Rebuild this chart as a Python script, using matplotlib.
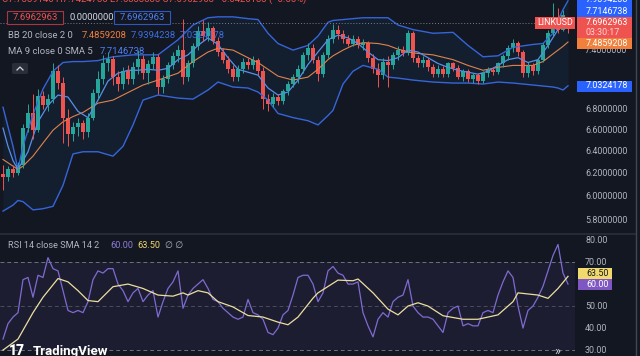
import matplotlib
matplotlib.use('Agg')
import matplotlib.pyplot as plt
import matplotlib.transforms as mtransforms
from matplotlib.patches import Rectangle, FancyBboxPatch
from matplotlib.lines import Line2D

plt.rcParams['font.family'] = ['Roboto', 'DejaVu Sans']

# ---- candles (LINKUSD) ----
opens = [6.20, 6.17, 6.24, 6.21, 6.28, 6.62, 6.76, 6.60, 6.93, 6.84,
         6.90, 7.18, 7.06, 6.72, 6.56, 6.63, 6.67, 6.58, 6.72, 6.96,
         7.10, 7.26, 7.31, 7.12, 7.05, 7.18, 7.10, 7.22, 7.31, 7.16,
         7.25, 7.33, 7.02, 7.10, 7.24, 7.34, 7.40, 7.12, 7.26, 7.44,
         7.60, 7.55, 7.64, 7.50, 7.38, 7.30, 7.20, 7.12, 7.20, 7.28,
         7.24, 7.30, 7.18, 6.90, 6.85, 6.92, 6.88, 6.98, 7.05, 7.12,
         7.20, 7.35, 7.42, 7.30, 7.15, 7.35, 7.52, 7.62, 7.57, 7.52,
         7.47, 7.52, 7.45, 7.48, 7.32, 7.20, 7.14, 7.28, 7.24, 7.35,
         7.40, 7.37, 7.58, 7.32, 7.26, 7.30, 7.22, 7.15, 7.20, 7.15,
         7.26, 7.21, 7.12, 7.18, 7.10, 7.14, 7.08, 7.16, 7.19, 7.17,
         7.26, 7.34, 7.42, 7.48, 7.38, 7.16, 7.24, 7.18, 7.30, 7.45,
         7.58, 7.74, 7.62, 7.7389146]
highs = [6.28, 6.27, 6.28, 6.31, 6.66, 6.85, 6.95, 7.00, 6.98, 6.95,
         7.26, 7.24, 7.12, 6.80, 6.68, 6.72, 6.70, 6.76, 7.00, 7.18,
         7.35, 7.38, 7.34, 7.18, 7.22, 7.24, 7.28, 7.40, 7.35, 7.30,
         7.38, 7.36, 7.14, 7.28, 7.38, 7.45, 7.74, 7.30, 7.48, 7.66,
         7.72, 7.70, 7.66, 7.54, 7.42, 7.34, 7.24, 7.24, 7.32, 7.32,
         7.34, 7.32, 7.22, 6.95, 6.96, 6.95, 7.00, 7.08, 7.15, 7.24,
         7.38, 7.48, 7.46, 7.34, 7.38, 7.56, 7.68, 7.67, 7.62, 7.56,
         7.56, 7.55, 7.52, 7.50, 7.36, 7.26, 7.32, 7.34, 7.38, 7.44,
         7.44, 7.62, 7.60, 7.35, 7.34, 7.32, 7.25, 7.24, 7.23, 7.28,
         7.28, 7.24, 7.20, 7.20, 7.16, 7.16, 7.18, 7.22, 7.22, 7.28,
         7.36, 7.45, 7.52, 7.50, 7.40, 7.28, 7.27, 7.32, 7.48, 7.62,
         7.92, 7.86, 7.84, 7.7424785]
lows = [6.06, 6.14, 6.17, 6.19, 6.25, 6.58, 6.52, 6.58, 6.80, 6.78,
        6.86, 7.00, 6.48, 6.45, 6.50, 6.55, 6.52, 6.54, 6.70, 6.90,
        7.05, 7.18, 7.04, 6.98, 7.00, 7.05, 7.05, 7.15, 7.10, 7.05,
        7.20, 6.95, 6.96, 7.06, 7.20, 7.28, 7.05, 7.08, 7.22, 7.40,
        7.50, 7.50, 7.46, 7.34, 7.26, 7.16, 7.08, 7.08, 7.16, 7.20,
        7.20, 7.14, 6.80, 6.78, 6.82, 6.84, 6.85, 6.94, 7.02, 7.06,
        7.16, 7.30, 7.26, 7.08, 7.12, 7.32, 7.48, 7.52, 7.48, 7.44,
        7.44, 7.42, 7.40, 7.28, 7.16, 7.02, 7.10, 7.02, 7.20, 7.30,
        7.34, 7.35, 7.28, 7.22, 7.22, 7.18, 7.12, 7.12, 7.12, 7.12,
        7.18, 7.10, 7.08, 7.07, 7.06, 7.05, 7.06, 7.12, 7.14, 7.15,
        7.22, 7.30, 7.38, 7.34, 7.12, 7.12, 7.14, 7.15, 7.28, 7.42,
        7.55, 7.58, 7.60, 7.5833885]
closes = [6.17, 6.24, 6.21, 6.28, 6.62, 6.76, 6.60, 6.93, 6.84, 6.90,
          7.18, 7.06, 6.72, 6.56, 6.63, 6.67, 6.58, 6.72, 6.96, 7.10,
          7.26, 7.31, 7.12, 7.05, 7.18, 7.10, 7.22, 7.31, 7.16, 7.25,
          7.33, 7.02, 7.10, 7.24, 7.34, 7.40, 7.12, 7.26, 7.44, 7.60,
          7.55, 7.64, 7.50, 7.38, 7.30, 7.20, 7.12, 7.20, 7.28, 7.24,
          7.30, 7.18, 6.90, 6.85, 6.92, 6.88, 6.98, 7.05, 7.12, 7.20,
          7.35, 7.42, 7.30, 7.15, 7.35, 7.52, 7.62, 7.57, 7.52, 7.47,
          7.52, 7.45, 7.48, 7.32, 7.20, 7.14, 7.28, 7.24, 7.35, 7.40,
          7.37, 7.58, 7.32, 7.26, 7.30, 7.22, 7.15, 7.20, 7.15, 7.26,
          7.21, 7.12, 7.18, 7.10, 7.14, 7.08, 7.16, 7.19, 7.17, 7.26,
          7.34, 7.42, 7.48, 7.38, 7.16, 7.24, 7.18, 7.30, 7.45, 7.58,
          7.74, 7.62, 7.78, 7.6962963]

# Bollinger bands (20, 2) sampled at candle indices
bb_x = [0, 2, 3, 4, 6, 8, 10, 12, 14, 16, 19, 22, 24, 26, 28, 31, 35, 38, 41, 43,
        46, 49, 51, 53, 55, 58, 61, 63, 65, 66, 68, 70, 72, 75, 77, 79, 82, 86, 90, 93,
        96, 99, 102, 106, 108, 110, 111, 112, 113]
bb_upper = [6.82, 6.45, 6.24, 6.45, 6.75, 7.00, 7.18, 7.27, 7.28, 7.28, 7.29, 7.33, 7.34, 7.35, 7.35,
            7.35, 7.51, 7.67, 7.75, 7.76, 7.76, 7.74, 7.73, 7.58, 7.47, 7.40, 7.45, 7.55, 7.70,
            7.72, 7.73, 7.74, 7.75, 7.75, 7.75, 7.67, 7.62, 7.58, 7.59, 7.45, 7.33, 7.34, 7.43,
            7.46, 7.47, 7.58, 7.72, 7.84, 7.9394238]
bb_basis = [6.33, 6.27, 6.24, 6.27, 6.36, 6.48, 6.60, 6.68, 6.73, 6.77, 6.86, 6.89, 6.94, 6.99, 7.04,
            7.09, 7.16, 7.28, 7.38, 7.42, 7.40, 7.32, 7.27, 7.20, 7.13, 7.09, 7.12, 7.20, 7.30,
            7.34, 7.40, 7.45, 7.48, 7.47, 7.45, 7.41, 7.37, 7.35, 7.30, 7.24, 7.19, 7.22, 7.24,
            7.24, 7.28, 7.36, 7.40, 7.44, 7.4859208]
bb_lower = [5.88, 5.93, 5.97, 5.96, 5.89, 5.90, 5.92, 6.10, 6.38, 6.40, 6.40, 6.36, 6.45, 6.65, 6.89,
            6.94, 6.91, 6.90, 6.99, 7.07, 7.02, 7.01, 6.97, 6.89, 6.76, 6.72, 6.69, 6.65, 6.74,
            6.79, 7.05, 7.18, 7.24, 7.20, 7.12, 7.11, 7.09, 7.07, 7.06, 7.06, 7.05, 7.07, 7.06,
            7.04, 7.03, 7.02, 7.01, 6.99, 7.0324178]

# MA 9 close 0 SMA 5
ma_x = [0, 1, 2, 3, 5, 7, 9, 11, 13, 15, 17, 19, 21, 23, 25, 27, 29, 31, 33, 35,
        37, 39, 41, 43, 45, 47, 49, 51, 53, 55, 57, 59, 61, 63, 65, 67, 69, 71, 73, 75,
        77, 79, 81, 83, 85, 87, 89, 91, 93, 95, 97, 99, 101, 103, 105, 107, 109, 111, 113]
ma_vals = [6.62, 6.45, 6.32, 6.24, 6.40, 6.68, 6.84, 6.94, 6.92, 6.78, 6.72, 6.89, 7.08, 7.16,
           7.19, 7.19, 7.20, 7.19, 7.21, 7.30, 7.35, 7.45, 7.53, 7.46, 7.32, 7.20, 7.17, 7.14,
           7.01, 6.94, 6.97, 7.09, 7.25, 7.38, 7.51, 7.56, 7.53, 7.47, 7.38, 7.30, 7.29, 7.32,
           7.40, 7.38, 7.32, 7.26, 7.22, 7.19, 7.17, 7.15, 7.18, 7.24, 7.30, 7.32, 7.27, 7.30,
           7.45, 7.62, 7.7146738]

# RSI 14 and its SMA 14
rsi = [35, 42, 45, 47, 62, 63, 54, 64, 63, 72,
       67, 66, 57, 48, 47, 48, 47, 52, 62, 66,
       65, 67, 67, 60, 57, 52, 56, 58, 52, 55,
       57, 45, 52, 58, 61, 66, 49, 55, 58, 60,
       62, 58, 53, 52, 49, 47, 45, 44, 45, 53,
       47, 46, 44, 38, 37, 40, 46, 48, 55, 63,
       64, 64, 60, 52, 56, 66, 68, 65, 64, 60,
       60, 61, 47, 41, 36, 44, 47, 45, 52, 54,
       55, 62, 50, 47, 45, 45, 44, 41, 38, 47,
       49, 50, 41, 42, 41, 41, 47, 48, 47, 55,
       61, 66, 63, 50, 40, 48, 50, 54, 59, 66,
       73, 78, 65, 60.0]
rsi_ma_x = [0, 3, 6, 8, 11, 13, 15, 17, 19, 22, 25, 28, 31, 34, 36, 37, 39, 41, 43, 46,
            49, 52, 55, 57, 59, 62, 63, 67, 70, 71, 74, 77, 79, 81, 83, 85, 88, 92, 95, 99,
            102, 103, 107, 109, 111, 113]
rsi_ma = [30, 35, 47, 54, 62.5, 61, 57, 52.5, 52, 58.8, 60, 58, 55, 54.5, 56, 55, 57, 56, 52,
          49.6, 45.7, 45, 42.7, 41.5, 45, 53.6, 56, 61.8, 61.5, 62.3, 56, 48.6, 46, 50, 51.5,
          50, 45.6, 44, 44, 46, 52, 56, 55, 53.5, 58, 63.5]

price_ticks = [7.4, 6.8, 6.6, 6.4, 6.2, 6.0, 5.8]
rsi_ticks = [80, 70, 50, 40, 30]
last_close = 7.6962963

BG = '#131722'
UP, DOWN = '#26a69a', '#ef5350'
BLUE = '#2962ff'
W, H = 640, 356


def fx(x):
    return x / W


def fy(y):
    return 1 - y / H


fig = plt.figure(figsize=(6.4, 3.56), dpi=100, facecolor=BG)

# ---- main pane ----
ax = fig.add_axes([0, fy(232), fx(575), 232 / H])
ax.axis('off')
ax.set_yscale('log')
ax.set_xlim(-0.6, 114.4)
ax.set_ylim(5.707, 7.949)

ax.fill_between(bb_x, bb_lower, bb_upper, color='#2196f3', alpha=0.06, lw=0)
ax.plot(bb_x, bb_upper, color='#3565d8', lw=1.0)
ax.plot(bb_x, bb_lower, color='#3565d8', lw=1.0)
ax.plot(bb_x, bb_basis, color='#e0834d', lw=0.8)
ax.plot(ma_x, ma_vals, color='#5a8fe8', lw=0.9)

idx = list(range(len(closes)))
cols = [UP if c >= o else DOWN for o, c in zip(opens, closes)]
ax.vlines(idx, lows, highs, colors=cols, lw=0.7)
ax.bar(idx, [max(abs(c - o), 0.006) for o, c in zip(opens, closes)],
       bottom=[min(o, c) for o, c in zip(opens, closes)],
       width=0.62, color=cols, lw=0)
ax.axhline(last_close, color='#9598a1', lw=0.7, ls=(0, (1, 2)), alpha=0.8)

# ---- RSI pane ----
rax = fig.add_axes([0, 0, fx(575), 121 / H])
rax.axis('off')
rax.set_xlim(-0.6, 114.4)
rax.set_ylim(27.3, 82.3)
rax.axhspan(30, 70, color='#7e57c2', alpha=0.1, lw=0)
for lvl, a in [(70, 0.9), (50, 0.5), (30, 0.9)]:
    rax.axhline(lvl, color='#787b86', lw=0.7, ls=(0, (4, 3)), alpha=a)
rax.plot(idx, rsi, color='#7e6bd0', lw=0.9)
rax.plot(rsi_ma_x, rsi_ma, color='#ecdf9e', lw=0.9)

# pane separator and right border
fig.add_artist(Line2D([0, fx(635)], [fy(233.5)] * 2, color='#2a2e39', lw=1.2))
fig.add_artist(Line2D([fx(635.5)] * 2, [0, 1], color='#434651', lw=1))

# ---- price scale ----
blend = mtransforms.blended_transform_factory(fig.transFigure, ax.transData)
for t in price_ticks:
    ax.text(fx(585), t, f'{t:.7f}', transform=blend, color='#b2b5be',
            fontsize=6.4, va='center', ha='left', clip_on=False)
rblend = mtransforms.blended_transform_factory(fig.transFigure, rax.transData)
for t in rsi_ticks:
    rax.text(fx(585), t, f'{t:.2f}', transform=rblend, color='#b2b5be',
             fontsize=6.4, va='center', ha='left', clip_on=False)


def tag(ypx, text, bg, fg='white', h=11, x0=577, w=55):
    fig.add_artist(Rectangle((fx(x0), fy(ypx + h / 2)), w / W, h / H,
                             transform=fig.transFigure, color=bg, lw=0))
    fig.text(fx(586), fy(ypx), text, color=fg, fontsize=6.4, va='center', ha='left')


tag(0, '7.9394238', BLUE)
tag(11, '7.7146738', BLUE)
fig.add_artist(Rectangle((fx(577), fy(38)), 55 / W, 21 / H,
                         transform=fig.transFigure, color=DOWN, lw=0))
fig.text(fx(586), fy(22.5), '7.6962963', color='white', fontsize=6.4, va='center')
fig.text(fx(586), fy(32.5), '03:30:17', color='#ffd5d5', fontsize=6.4, va='center')
tag(43.5, '7.4859208', '#f0803c')
tag(86, '7.0324178', BLUE)
tag(273, '63.50', '#f2d96e', fg='#131722', x0=578, w=34)
tag(284.5, '60.00', '#7e57c2', x0=578, w=34)

# symbol label
fig.add_artist(Rectangle((fx(535), fy(28.5)), 40 / W, 12 / H,
                         transform=fig.transFigure, color=DOWN, lw=0))
fig.text(fx(555), fy(22.5), 'LINKUSD', color='white', fontsize=6.4, va='center', ha='center')

# ---- legends ----
fig.text(fx(2), fy(-1), 'O7.7389146 H7.7424785 L7.5833885 C7.6962963 \u22120.0426183 (\u22120.55%)',
         color=DOWN, fontsize=6.8, va='center')
fig.add_artist(Rectangle((fx(7), fy(24)), 56 / W, 13 / H, transform=fig.transFigure,
                         facecolor=BG, edgecolor='#a8383f', lw=0.8))
fig.text(fx(35), fy(17.5), '7.6962963', color=DOWN, fontsize=6.8, va='center', ha='center')
fig.text(fx(70), fy(17.5), '0.0000000', color='#d1d4dc', fontsize=6.8, va='center')
fig.add_artist(Rectangle((fx(114), fy(24)), 56 / W, 13 / H, transform=fig.transFigure,
                         facecolor=BG, edgecolor='#2f57c0', lw=0.8))
fig.text(fx(142), fy(17.5), '7.6962963', color='#4f7ff0', fontsize=6.8, va='center', ha='center')

fig.text(fx(8), fy(35), 'BB 20 close 2 0', color='#b2b5be', fontsize=6.8, va='center')
fig.text(fx(82), fy(35), '7.4859208', color='#f0803c', fontsize=6.8, va='center')
fig.text(fx(131), fy(35), '7.9394238', color='#3d6fe0', fontsize=6.8, va='center')
fig.text(fx(180), fy(35), '7.0324178', color='#3d6fe0', fontsize=6.8, va='center')
fig.text(fx(8), fy(52), 'MA 9 close 0 SMA 5', color='#b2b5be', fontsize=6.8, va='center')
fig.text(fx(100), fy(52), '7.7146738', color='#4f7ff0', fontsize=6.8, va='center')

fig.add_artist(FancyBboxPatch((fx(12), fy(74)), 16 / W, 11 / H, transform=fig.transFigure,
                              boxstyle='round,pad=0,rounding_size=0.004',
                              facecolor='#2a2e39', edgecolor='none'))
fig.add_artist(Line2D([fx(17), fx(20), fx(23)], [fy(70), fy(67), fy(70)],
                      color='#d1d4dc', lw=0.9))

fig.text(fx(8), fy(245.5), 'RSI 14 close SMA 14 2', color='#b2b5be', fontsize=6.6, va='center')
fig.text(fx(110), fy(245.5), '60.00', color='#8e7cd3', fontsize=6.6, va='center')
fig.text(fx(137), fy(245.5), '63.50', color='#f2d96e', fontsize=6.6, va='center')
fig.text(fx(165), fy(245.5), '\u2205 \u2205', color='#b2b5be', fontsize=6.6, va='center')

# branding and scroll button
fig.text(fx(9), fy(351), '17', color='white', fontsize=10, weight='heavy', va='center')
fig.text(fx(33), fy(351), 'TradingView', color='white', fontsize=9.5, weight='bold', va='center')
fig.text(fx(557), fy(351), '\u00bb', color='#d1d4dc', fontsize=9, va='center', ha='center')

fig.savefig('out.png', dpi=100, facecolor=BG)
